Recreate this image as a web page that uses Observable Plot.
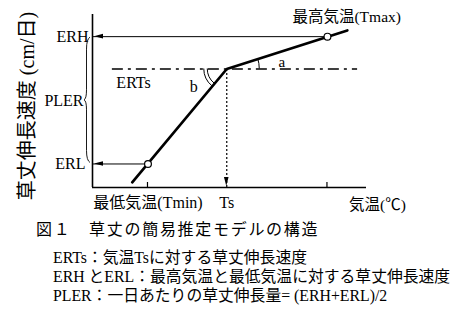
<!DOCTYPE html>
<html>
<head>
<meta charset="utf-8">
<script src="https://cdn.jsdelivr.net/npm/d3@7"></script>
<script src="https://cdn.jsdelivr.net/npm/@observablehq/plot@0.6"></script>
<style>
  html, body { margin: 0; padding: 0; background: #fff; }
  #wrap { position: relative; width: 463px; height: 313px; overflow: hidden; background: #fff;
    font-family: "Liberation Serif", "Noto Sans CJK JP", serif; color: #000; }
  #chart { position: absolute; left: 0; top: 0; }
  .cap { position: absolute; white-space: nowrap; }
  #title { left: 36px; top: 220px; font-size: 16px; line-height: 20px; letter-spacing: 1.7px; }
  .note { left: 53px; font-size: 15.8px; line-height: 18px; }
</style>
</head>
<body>
<div id="wrap">
  <div id="chart"></div>
  <div id="title" class="cap"></div>
  <div id="n0" class="cap note" style="top:249px"></div>
  <div id="n1" class="cap note" style="top:268px"></div>
  <div id="n2" class="cap note" style="top:287px"></div>
</div>
<script>
// ---- data ----
const xDomain = [0, 40];            // temperature axis (arbitrary units)
const yDomain = [0, 10];            // elongation-rate axis (arbitrary units)
const tempNames = ["Tmin", "Ts", "Tmax"];
const temps = [8.1, 19.6, 34.3];
const rateNames = ["ERL", "ERTs", "ERH"];
const rates = [1.36, 6.85, 8.72];
const modelT = [5.8, 19.6, 37.2];   // broken-line model
const modelR = [0.3, 6.85, 9.08];
const refLineT = [2.9, 38.7];       // extent of the ERTs dash-dot line
const yTitle = "草丈伸長速度 (cm/日)";
const xTitle = "気温(℃)";
const tminLabel = "最低気温(Tmin)";
const tmaxLabel = "最高気温(Tmax)";
const tsLabel = "Ts";
const ploerLabel = "PLER";
const angleLabels = ["a", "b"];
const titleText = "図１　草丈の簡易推定モデルの構造";
const noteLines = [
  "ERTs：気温Tsに対する草丈伸長速度",
  "ERH とERL：最高気温と最低気温に対する草丈伸長速度",
  "PLER：一日あたりの草丈伸長量= (ERH+ERL)/2"
];

const [tmin, ts, tmax] = temps;
const [erl, erts, erh] = rates;
const pler = (erh + erl) / 2;
const model = modelT.map((t, i) => ({t, r: modelR[i]}));
const knee = [{t: ts, r: erts}];
const font = '"Liberation Serif", "Noto Sans CJK JP", serif';

function decorations(index, scales) {
  const x = scales.x, y = scales.y;
  const g = d3.create("svg:g").attr("fill", "none").attr("stroke", "black");
  const kx = x(ts), ky = y(erts);
  // angle a (between ERTs line and upper segment)
  const ra = 33;
  const aa = Math.atan2(y(modelR[2]) - ky, x(modelT[2]) - kx);
  g.append("path").attr("stroke-width", 1)
    .attr("d", `M${kx + ra},${ky} A${ra},${ra} 0 0 0 ${kx + ra * Math.cos(aa)},${ky + ra * Math.sin(aa)}`);
  // angle b (double arc)
  const ab = Math.atan2(y(modelR[0]) - ky, x(modelT[0]) - kx);
  for (const rb of [19, 22.5]) {
    g.append("path").attr("stroke-width", 1)
      .attr("d", `M${kx + rb * Math.cos(ab)},${ky + rb * Math.sin(ab)} A${rb},${rb} 0 0 1 ${kx - rb},${ky}`);
  }
  // brace for PLER
  const x0 = x(xDomain[0]) - 2, yT = y(erh) + 1, yB = y(erl) - 1, yM = y(pler), w = 3.5;
  g.append("path").attr("stroke-width", 0.9)
    .attr("d", `M${x0},${yT} Q${x0 - w},${yT + 2} ${x0 - w},${yT + 12} L${x0 - w},${yM - 10}
      Q${x0 - w},${yM - 1} ${x0 - 2 * w + 1},${yM} Q${x0 - w},${yM + 1} ${x0 - w},${yM + 10}
      L${x0 - w},${yB - 12} Q${x0 - w},${yB - 2} ${x0},${yB}`);
  // arrowheads
  const ax = x(xDomain[0]) + 2;
  for (const r of [erh, erl]) {
    const yy = y(r);
    g.append("path").attr("fill", "black").attr("stroke", "none")
      .attr("d", `M${ax},${yy} L${ax + 9},${yy - 2.3} L${ax + 9},${yy + 2.3} Z`);
  }
  const tx = x(ts), ty = y(yDomain[0]) - 1;
  g.append("path").attr("fill", "black").attr("stroke", "none")
    .attr("d", `M${tx},${ty} L${tx - 2.3},${ty - 9} L${tx + 2.3},${ty - 9} Z`);
  // ticks at Tmin and Tmax
  for (const t of [tmin, tmax]) {
    g.append("path").attr("stroke-width", 1.2)
      .attr("d", `M${x(t)},${y(yDomain[0])} V${y(yDomain[0]) - 5}`);
  }
  return g.node();
}

const chart = Plot.plot({
  width: 463,
  height: 215,
  marginLeft: 92,
  marginRight: 97,
  marginTop: 14,
  marginBottom: 28,
  x: {domain: xDomain, axis: null},
  y: {domain: yDomain, axis: null},
  style: {fontFamily: font, background: "white", color: "black", overflow: "visible"},
  marks: [
    // axes
    Plot.ruleX([xDomain[0]], {y1: yDomain[0], y2: yDomain[1], strokeWidth: 1.6, stroke: "black"}),
    Plot.ruleY([yDomain[0]], {x1: xDomain[0], x2: xDomain[1], strokeWidth: 1.6, stroke: "black"}),
    // ERTs dash-dot reference line
    Plot.ruleY([erts], {x1: refLineT[0], x2: refLineT[1], stroke: "black", strokeWidth: 1.4, strokeDasharray: "11,5,3,5"}),
    // Ts dotted drop line
    Plot.ruleX([ts], {y1: yDomain[0], y2: erts, stroke: "black", strokeWidth: 1.2, strokeDasharray: "2,2"}),
    // ERH / ERL leader lines
    Plot.ruleY([erh], {x1: xDomain[0], x2: tmax, stroke: "black", strokeWidth: 1}),
    Plot.ruleY([erl], {x1: xDomain[0], x2: tmin, stroke: "black", strokeWidth: 1}),
    // model
    Plot.line(model, {x: "t", y: "r", stroke: "black", strokeWidth: 2.7, strokeLinejoin: "miter"}),
    Plot.dot([{t: tmin, r: erl}, {t: tmax, r: erh}], {x: "t", y: "r", r: 3.4, fill: "white", stroke: "black", strokeWidth: 1.2}),
    decorations,
    // y-axis labels
    Plot.text([{r: erh, n: rateNames[2]}], {frameAnchor: "left", y: "r", text: "n", textAnchor: "end", dx: -4, fontSize: 16, fill: "black"}),
    Plot.text([{r: erl, n: rateNames[0]}], {frameAnchor: "left", y: "r", text: "n", textAnchor: "end", dx: -7, fontSize: 16, fill: "black"}),
    Plot.text([{r: pler, n: ploerLabel}], {frameAnchor: "left", y: "r", text: "n", textAnchor: "end", dx: -9, dy: 1, fontSize: 16, fill: "black"}),
    Plot.text([{t: refLineT[0], r: erts, n: rateNames[1]}], {x: "t", y: "r", text: "n", textAnchor: "start", dx: 4, dy: 14, fontSize: 16, fill: "black"}),
    // angle labels
    Plot.text(knee, {x: "t", y: "r", text: () => angleLabels[1], dx: -33, dy: 18, fontSize: 16, fill: "black"}),
    Plot.text(knee, {x: "t", y: "r", text: () => angleLabels[0], dx: 55, dy: -7, fontSize: 15, fill: "black"}),
    // Tmax label
    Plot.text([{t: tmax, r: erh}], {x: "t", y: "r", text: () => tmaxLabel, textAnchor: "start", dx: -35, dy: -20, fontSize: 15.5, fill: "black"}),
    // x labels
    Plot.text([{t: tmin, r: yDomain[0]}], {x: "t", y: "r", text: () => tminLabel, dy: 15, fontSize: 16, fill: "black"}),
    Plot.text([{t: ts, r: yDomain[0]}], {x: "t", y: "r", text: () => tsLabel, dy: 15, fontSize: 16, fill: "black"}),
    Plot.text([{t: xDomain[1], r: yDomain[0]}], {x: "t", y: "r", text: () => xTitle, dx: 11, dy: 18, fontSize: 15.5, fill: "black"}),
    // y title
    Plot.text([yTitle], {frameAnchor: "left", text: d => d, textAnchor: "middle", rotate: -90, dx: -65, dy: 5, fontSize: 20, fill: "black"})
  ]
});
document.getElementById("chart").appendChild(chart);
document.getElementById("title").textContent = titleText;
noteLines.forEach((s, i) => document.getElementById("n" + i).textContent = s);
</script>
</body>
</html>
